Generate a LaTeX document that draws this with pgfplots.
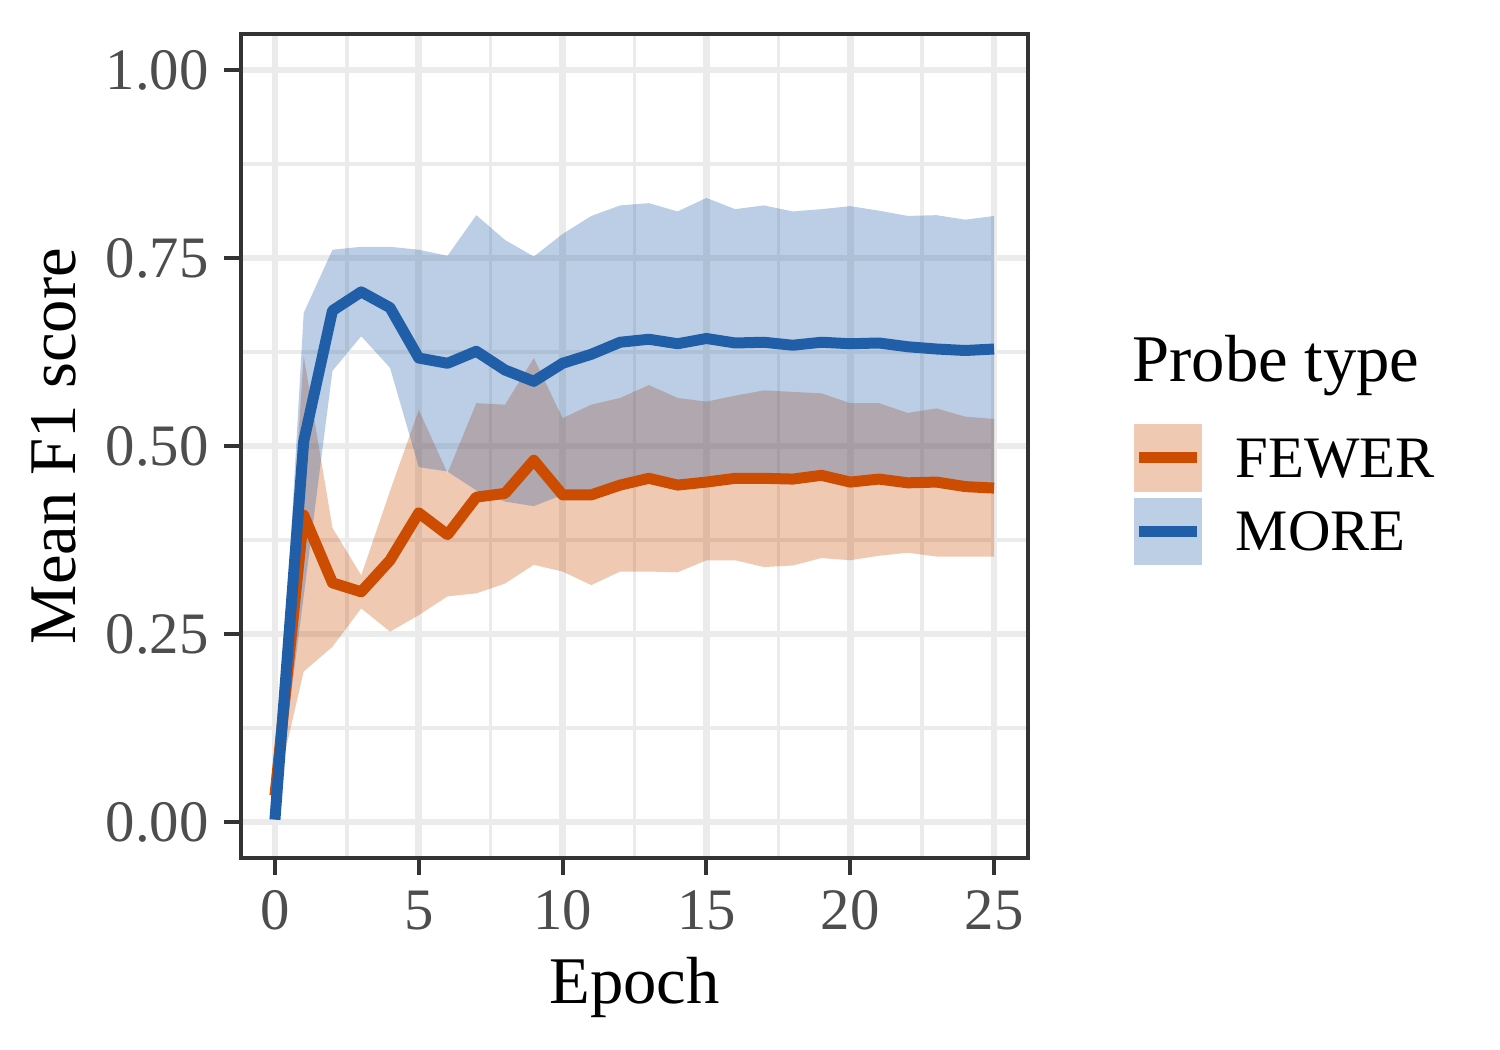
\documentclass[border=0pt]{standalone}
\usepackage{fontspec}
\setmainfont{Liberation Serif}
\usepackage{pgfplots}
\usepgfplotslibrary{fillbetween}
\usepackage{pgfplotstable}
\pgfplotsset{compat=1.18}

\definecolor{fewerc}{RGB}{204,76,2}
\definecolor{morec}{RGB}{33,94,168}
\definecolor{gridgray}{RGB}{235,235,235}
\definecolor{framegray}{RGB}{51,51,51}
\definecolor{tickgray}{RGB}{77,77,77}

\pgfplotstableread{
x mean lo hi
0 0.035 0.035 0.035
1 0.408 0.200 0.620
2 0.318 0.233 0.391
3 0.306 0.284 0.328
4 0.348 0.253 0.440
5 0.411 0.275 0.548
6 0.382 0.300 0.464
7 0.432 0.304 0.557
8 0.437 0.317 0.555
9 0.481 0.342 0.617
10 0.435 0.333 0.537
11 0.435 0.315 0.555
12 0.448 0.333 0.564
13 0.457 0.333 0.581
14 0.448 0.332 0.564
15 0.452 0.348 0.559
16 0.457 0.348 0.567
17 0.457 0.339 0.574
18 0.456 0.341 0.572
19 0.461 0.351 0.570
20 0.452 0.348 0.557
21 0.456 0.354 0.557
22 0.451 0.358 0.544
23 0.452 0.353 0.550
24 0.446 0.353 0.539
25 0.444 0.353 0.536
}\fewer

\pgfplotstableread{
x mean lo hi
0 0.003 0.003 0.003
1 0.506 0.300 0.677
2 0.680 0.600 0.761
3 0.705 0.646 0.765
4 0.684 0.604 0.765
5 0.617 0.472 0.761
6 0.610 0.466 0.753
7 0.626 0.441 0.807
8 0.601 0.426 0.774
9 0.586 0.420 0.752
10 0.610 0.435 0.782
11 0.622 0.439 0.806
12 0.638 0.452 0.820
13 0.642 0.461 0.823
14 0.636 0.452 0.812
15 0.643 0.456 0.830
16 0.637 0.461 0.815
17 0.638 0.461 0.820
18 0.634 0.460 0.812
19 0.638 0.465 0.815
20 0.636 0.456 0.819
21 0.637 0.460 0.813
22 0.632 0.455 0.806
23 0.629 0.456 0.807
24 0.627 0.450 0.801
25 0.629 0.448 0.806
}\more

\begin{document}
\begin{tikzpicture}
\begin{axis}[
  at={(0pt,0pt)}, anchor=south west,
  scale only axis,
  width=188.88pt, height=197.76pt,
  xmin=-1.18, xmax=26.18,
  ymin=-0.048, ymax=1.048,
  xtick={0,5,...,25},
  ytick={0,0.25,0.5,0.75,1},
  minor xtick={2.5,7.5,12.5,17.5,22.5},
  minor ytick={0.125,0.375,0.625,0.875},
  grid=both,
  major grid style={draw=gridgray, line width=1.6pt},
  minor grid style={draw=gridgray, line width=0.8pt},
  minor tick length=0pt,
  major tick length=4pt,
  tick align=outside,
  xtick pos=bottom, ytick pos=left,
  major tick style={draw=framegray, line width=1pt},
  axis line style={draw=framegray, line width=0.75pt},
  /pgf/number format/assume math mode=true,
  xticklabel style={font=\fontsize{14.1}{14.1}\selectfont, text=tickgray, inner sep=0pt, anchor=base, yshift=-13.1pt},
  yticklabel style={font=\fontsize{14.1}{14.1}\selectfont, text=tickgray, inner sep=0pt, anchor=east, xshift=-3.6pt,
    /pgf/number format/.cd, fixed, fixed zerofill, precision=2},
  xlabel={Epoch},
  ylabel={Mean F1 score},
  xlabel style={font=\fontsize{16}{16}\selectfont, inner sep=0pt, anchor=base,
    at={(axis description cs:0.5,-0.17648)}},
  ylabel style={font=\fontsize{16}{16}\selectfont, inner sep=0pt, anchor=base,
    at={(axis description cs:-0.2107,0.5)}},
  legend cell align=left,
  legend style={at={(axis description cs:1.1338,0.5267)}, anchor=north west,
    draw=none, fill=none, inner sep=0pt, outer sep=0pt,
    row sep=1.44pt, column sep=8.0pt,
    font=\fontsize{14.1}{14.1}\selectfont,
    nodes={inner sep=0pt, text height=9.23pt, text depth=0pt}},
]
\addplot[draw=none, name path=flo, forget plot] table[x=x, y=lo]{\fewer};
\addplot[draw=none, name path=fhi, forget plot] table[x=x, y=hi]{\fewer};
\addplot[fill=fewerc, fill opacity=0.3, draw=none, forget plot] fill between[of=fhi and flo];
\addplot[draw=none, name path=mlo, forget plot] table[x=x, y=lo]{\more};
\addplot[draw=none, name path=mhi, forget plot] table[x=x, y=hi]{\more};
\addplot[fill=morec, fill opacity=0.3, draw=none, forget plot] fill between[of=mhi and mlo];
\addplot[fewerc, line width=2.64pt, line join=round, line cap=butt, forget plot] table[x=x, y=mean]{\fewer};
\addplot[morec, line width=2.64pt, line join=round, line cap=butt, forget plot] table[x=x, y=mean]{\more};
\addlegendimage{legend image code/.code={
  \fill[fewerc!30!white] (0pt,-7.92pt) rectangle (16pt,7.92pt);
  \draw[fewerc, line width=2.64pt] (1pt,0pt) -- (15pt,0pt);}}
\addlegendentry{FEWER}
\addlegendimage{legend image code/.code={
  \fill[morec!30!white] (0pt,-7.92pt) rectangle (16pt,7.92pt);
  \draw[morec, line width=2.64pt] (1pt,0pt) -- (15pt,0pt);}}
\addlegendentry{MORE}
\end{axis}
\node[anchor=base west, inner sep=0pt, font=\fontsize{16}{16}\selectfont] at (213.8pt,114.3pt) {Probe type};
\pgfresetboundingbox
\path[use as bounding box] (-57.84pt,-46.08pt) rectangle (302.16pt,205.92pt);
\end{tikzpicture}
\end{document}
